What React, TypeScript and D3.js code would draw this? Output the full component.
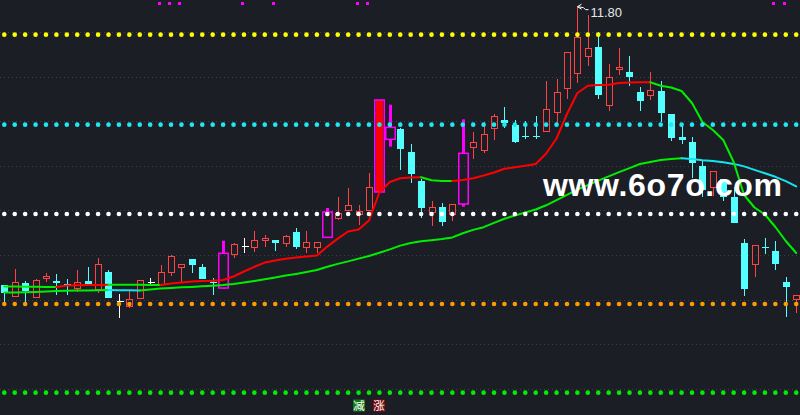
import React from "react";
import * as d3 from "d3";

// ---- data (prices) ----
const opens = [
  7.63, 7.45, 7.65, 7.44, 7.72, 7.68, 7.64, 7.57, 7.68, 7.56,
  7.82, 7.38, 7.31, 7.43, 7.66, 7.64, 7.82, 7.89, 8.02, 7.90,
  7.67, 7.58, 8.09, 8.20, 8.19, 8.29, 8.30, 8.25, 8.42, 8.19,
  8.19, 8.34, 8.62, 8.75, 8.69, 8.74, 9.02, 9.81, 9.97, 9.62,
  9.19, 8.71, 8.80, 8.69, 8.84, 9.69, 9.64, 9.98, 10.10, 10.03,
  9.86, 9.86, 9.93, 10.22, 10.58, 10.80, 11.06, 11.20, 10.32, 10.86,
  10.82, 10.52, 10.47, 10.54, 10.19, 9.85, 9.77, 9.41, 9.09, 9.21,
  8.94, 8.25, 7.94, 8.20, 8.14, 7.67, 7.41,
];
const closes = [
  7.51, 7.67, 7.54, 7.69, 7.76, 7.67, 7.63, 7.67, 7.64, 7.93,
  7.43, 7.38, 7.41, 7.69, 7.66, 7.82, 8.06, 7.94, 7.93, 7.72,
  7.65, 8.10, 8.23, 8.20, 8.30, 8.33, 8.26, 8.36, 8.20, 8.27,
  8.26, 8.72, 8.70, 8.82, 8.73, 9.09, 10.40, 9.99, 9.67, 9.29,
  8.78, 8.79, 8.57, 8.84, 9.60, 9.77, 9.89, 10.15, 10.05, 9.77,
  9.85, 9.85, 10.26, 10.52, 11.12, 11.34, 11.18, 10.48, 10.74, 10.89,
  10.75, 10.39, 10.55, 10.20, 9.83, 9.80, 9.46, 9.05, 9.33, 8.95,
  8.56, 7.57, 8.22, 8.19, 7.94, 7.60, 7.47,
];
const highs = [
  7.63, 7.87, 7.69, 7.71, 7.81, 7.79, 7.71, 7.85, 7.90, 8.03,
  7.85, 7.49, 7.55, 7.69, 7.73, 7.93, 8.08, 7.94, 8.02, 7.94,
  7.73, 8.29, 8.26, 8.33, 8.44, 8.38, 8.30, 8.38, 8.48, 8.44,
  8.26, 8.78, 8.95, 9.08, 8.82, 9.31, 10.40, 10.33, 9.98, 9.74,
  9.21, 8.89, 8.85, 8.84, 10.11, 9.92, 10.07, 10.19, 10.30, 10.10,
  10.09, 10.16, 10.69, 10.72, 11.12, 11.80, 11.68, 11.42, 10.94, 11.18,
  11.06, 10.59, 10.82, 10.69, 10.19, 10.03, 9.85, 9.50, 9.33, 9.21,
  9.10, 8.31, 8.22, 8.33, 8.29, 7.74, 7.47,
];
const lows = [
  7.36, 7.44, 7.34, 7.43, 7.67, 7.47, 7.47, 7.52, 7.63, 7.50,
  7.43, 7.13, 7.28, 7.42, 7.63, 7.63, 7.76, 7.67, 7.81, 7.71,
  7.47, 7.57, 8.03, 8.10, 8.12, 8.20, 8.14, 8.20, 8.16, 8.11,
  8.11, 8.34, 8.60, 8.74, 8.53, 8.73, 9.01, 9.70, 9.35, 9.16,
  8.63, 8.51, 8.51, 8.59, 8.80, 9.52, 9.61, 9.80, 9.98, 9.76,
  9.81, 9.82, 9.92, 10.05, 10.42, 10.66, 10.91, 10.41, 10.24, 10.78,
  10.61, 10.24, 10.40, 10.07, 9.79, 9.74, 9.23, 8.94, 8.96, 8.89,
  8.55, 7.46, 7.75, 8.09, 7.85, 7.15, 7.20,
];
const maShort = [
  7.6025, 7.601, 7.5995, 7.598, 7.5965, 7.595, 7.6175, 7.6205, 7.6235, 7.6265,
  7.6295, 7.6288, 7.628, 7.6273, 7.6265, 7.6258, 7.646, 7.661, 7.676, 7.685,
  7.688, 7.70, 7.7525, 7.8275, 7.898, 7.961, 7.9925, 8.018, 8.0375, 8.0525,
  8.066, 8.201, 8.321, 8.4275, 8.4575, 8.5925, 9.0125, 9.17, 9.227, 9.239,
  9.2405, 9.197, 9.185, 9.1835, 9.20, 9.227, 9.2675, 9.3125, 9.3695, 9.3905,
  9.413, 9.44, 9.5975, 9.8225, 10.19, 10.505, 10.6145, 10.625, 10.628, 10.655,
  10.6625, 10.6655, 10.667, 10.6145, 10.5875, 10.535, 10.355, 10.07, 9.95, 9.80,
  9.47, 8.975, 8.7875, 8.6825, 8.495, 8.285, 8.105,
];
const maLong = [
  7.511, 7.514, 7.517, 7.52, 7.526, 7.5335, 7.538, 7.541, 7.544, 7.547,
  7.55, 7.547, 7.5455, 7.544, 7.559, 7.571, 7.58, 7.5905, 7.5965, 7.6055,
  7.6145, 7.625, 7.64, 7.6625, 7.685, 7.7105, 7.739, 7.766, 7.7915, 7.8185,
  7.85, 7.898, 7.9415, 7.979, 8.021, 8.06, 8.108, 8.159, 8.216, 8.255,
  8.2805, 8.297, 8.3135, 8.339, 8.402, 8.4515, 8.492, 8.5565, 8.6195, 8.6675,
  8.7125, 8.7575, 8.8205, 8.8985, 8.978, 9.056, 9.1235, 9.1895, 9.254, 9.3185,
  9.3785, 9.44, 9.4715, 9.5015, 9.515, 9.5255, 9.515, 9.497, 9.4835, 9.467,
  9.4415, 9.404, 9.3515, 9.3005, 9.248, 9.182, 9.104,
];
const signalBars = [21, 31, 36, 37, 44];
const limitUpBars = [36];
const markerBars = [15, 16, 17, 23, 26, 34, 35, 74, 75];
const levelPrices = [11.38, 10.03, 8.69, 7.34, 6.01];
const tagBars = [34, 36];
const tagTexts = ["减", "涨"];
const watermark = "www.6o7o.com";

// ---- styles ----
const W = 800;
const H = 415;
const BG = "#1c1e26";
const UP = "#ff4242";
const DOWN = "#54ffff";
const DOJI = "#ffffff";
const SIG = "#ff00ff";
const LEVEL_COLORS = ["#ffff00", "#1ee8f2", "#ffffff", "#ff9a00", "#00ee00"];
const TAG_COLORS = ["#0f7a12", "#7d0a0a"];

type Run = { color: string; pts: [number, number][] };

function runs(vals: number[], xs: (i: number) => number, ys: (v: number) => number, upC: string, dnC: string): Run[] {
  const out: Run[] = [];
  for (let i = 0; i < vals.length - 1; i++) {
    const c = vals[i + 1] >= vals[i] ? upC : dnC;
    const a: [number, number] = [xs(i), ys(vals[i])];
    const b: [number, number] = [xs(i + 1), ys(vals[i + 1])];
    const last = out[out.length - 1];
    if (last && last.color === c) last.pts.push(b);
    else out.push({ color: c, pts: [a, b] });
  }
  return out;
}

export default function App() {
  const n = opens.length;
  const x = d3.scaleLinear().domain([0, n - 1]).range([4.3, 796.2]);
  const y = d3.scaleLinear().domain([5.675, 11.9]).range([H, 0]);
  const line = d3.line<[number, number]>().x((d) => d[0]).y((d) => d[1]);

  const gridYs = d3.range(9).map((k) => 32.5 + k * 44.6);

  const peakIdx = d3.maxIndex(highs);
  const peakX = Math.round(x(peakIdx)) + 0.5;
  const peakY = y(highs[peakIdx]);

  const candles = opens.map((o, i) => {
    const c = closes[i];
    const cx = Math.round(x(i)) + 0.5;
    const yH = y(highs[i]);
    const yL = y(lows[i]);
    const yO = y(o);
    const yC = y(c);
    const top = Math.min(yO, yC);
    const bot = Math.max(yO, yC);
    const isSig = signalBars.includes(i);
    if (isSig) {
      const hw = 5;
      const els: React.ReactNode[] = [];
      if (top - yH > 0.5)
        els.push(<line key="wt" x1={cx} x2={cx} y1={yH} y2={top} stroke={SIG} strokeWidth={3} />);
      if (yL - bot > 0.5)
        els.push(<line key="wb" x1={cx} x2={cx} y1={bot} y2={yL} stroke={SIG} strokeWidth={3} />);
      if (limitUpBars.includes(i))
        els.push(<rect key="f" x={cx - 3.5} y={top} width={7} height={bot - top} fill="#ff0000" />);
      els.push(
        <rect key="b" x={cx - hw + 0.25} y={top} width={hw * 2 - 0.5} height={Math.max(bot - top, 1)} fill="none" stroke={SIG} strokeWidth={1.5} />
      );
      return <g key={i}>{els}</g>;
    }
    if (o === c) {
      return (
        <g key={i} stroke={DOJI} strokeWidth={1} shapeRendering="crispEdges">
          <line x1={cx} x2={cx} y1={yH} y2={yL} />
          <line x1={cx - 3} x2={cx + 4} y1={yC} y2={yC} />
        </g>
      );
    }
    if (c > o) {
      return (
        <g key={i} stroke={UP} strokeWidth={1} fill="none" shapeRendering="crispEdges">
          {top - yH > 0.5 && <line x1={cx} x2={cx} y1={yH} y2={top} />}
          {yL - bot > 0.5 && <line x1={cx} x2={cx} y1={bot} y2={yL} />}
          <rect x={cx - 3} y={top} width={6} height={Math.max(bot - top, 1)} />
        </g>
      );
    }
    return (
      <g key={i} shapeRendering="crispEdges">
        <line x1={cx} x2={cx} y1={yH} y2={yL} stroke={DOWN} strokeWidth={1} />
        <rect x={cx - 3.5} y={top} width={7} height={Math.max(bot - top, 1.2)} fill={DOWN} />
      </g>
    );
  });

  const shortRuns = runs(maShort, x, y, "#ff0000", "#00ee00");
  const longRuns = runs(maLong, x, y, "#00ee00", "#14e4ee");

  return (
    <svg width={W} height={H} style={{ position: "absolute", left: 0, top: 0, display: "block" }}>
      <rect x={0} y={0} width={W} height={H} fill={BG} />
      {gridYs.map((gy, k) => (
        <line key={k} x1={0} x2={W} y1={gy} y2={gy} stroke="#3c3f4a" strokeWidth={1} strokeDasharray="1 3" shapeRendering="crispEdges" />
      ))}
      <g>{candles}</g>
      {[...longRuns, ...shortRuns].map((r, k) => (
        <path key={k} d={line(r.pts) || ""} fill="none" stroke={r.color} strokeWidth={2} strokeLinejoin="round" strokeLinecap="round" />
      ))}
      {levelPrices.map((p, li) => (
        <g key={li} fill={LEVEL_COLORS[li]}>
          {opens.map((_, i) => (
            <circle key={i} cx={x(i)} cy={y(p)} r={2.3} />
          ))}
        </g>
      ))}
      {markerBars.map((i) => (
        <rect key={i} x={Math.round(x(i)) - 3} y={2} width={3} height={3} fill={SIG} />
      ))}
      <g stroke="#ffffff" strokeWidth={1} fill="none">
        <path d={`M${peakX} ${peakY} L${peakX + 4} ${peakY - 2.5} M${peakX} ${peakY} L${peakX + 4} ${peakY + 2.5} M${peakX} ${peakY} L${peakX + 6} ${peakY + 1} L${peakX + 8} ${peakY + 3} L${peakX + 11} ${peakY + 3}`} />
      </g>
      <text x={peakX + 13} y={peakY + 10} fill="#e6e6e6" fontFamily="Liberation Sans, Arial, sans-serif" fontSize={13}>
        {d3.format(".2f")(highs[peakIdx])}
      </text>
      <text x={543} y={196} fill="#ffffff" fontFamily="Liberation Sans, Arial, sans-serif" fontWeight="bold" fontSize={32} textLength={239} lengthAdjust="spacing">
        {watermark}
      </text>
      {tagBars.map((i, k) => {
        const cx = Math.round(x(i));
        return (
          <g key={k}>
            <rect x={cx - 6} y={399.5} width={12} height={12} fill={TAG_COLORS[k]} />
            <text x={cx} y={410} textAnchor="middle" fill="#ffffff" fontFamily="Noto Sans CJK SC, sans-serif" fontSize={11.5}>
              {tagTexts[k]}
            </text>
          </g>
        );
      })}
    </svg>
  );
}
